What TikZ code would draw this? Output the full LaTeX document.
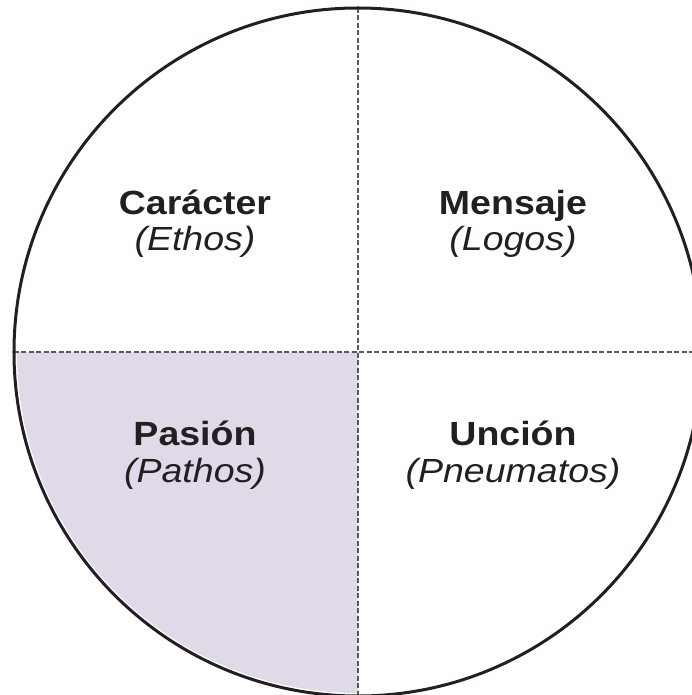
\documentclass[tikz,border=0pt]{standalone}
\usepackage{fontspec}
\newfontfamily\quadfont[FakeStretch=1.12]{Liberation Sans}
\definecolor{rimgray}{HTML}{231F20}
\definecolor{dashgray}{HTML}{58595B}
\definecolor{pathosfill}{HTML}{E0D9E8}

\begin{document}
\begin{tikzpicture}[x=1pt, y=1pt,
        title/.style={anchor=base, text=rimgray, font=\quadfont\fontsize{33.5}{40}\selectfont\bfseries},
        subtitle/.style={anchor=base, text=rimgray, font=\quadfont\fontsize{33.5}{40}\selectfont\itshape},
        divider/.style={dashgray, line width=1.1pt, dash pattern=on 5pt off 2.5pt}]
        % Fix the frame: the circle runs past the right edge
        \useasboundingbox (-358,-343) rectangle (333,352);

        % Shade the lower-left quadrant
        \fill[pathosfill] (0,0) -- (-341,0) arc[start angle=180, end angle=270, radius=341] -- cycle;

        % Dashed dividers across the circle
        \coordinate (top) at (0,344);
        \coordinate (bottom) at (0,-344);
        \coordinate (left) at (-344,0);
        \coordinate (right) at (344,0);
        \draw[divider] (top) -- (bottom);
        \draw[divider] (left) -- (right);

        % Outer rim
        \draw[rimgray, line width=3pt] (0,0) circle[radius=344];

        % Upper quadrants
        \node[title] (caracter) at (-163,137) {Carácter};
        \node[subtitle] (ethos) at (-163,101) {(Ethos)};
        \node[title] (mensaje) at (155,137) {Mensaje};
        \node[subtitle] (logos) at (155,101) {(Logos)};

        % Lower quadrants
        \node[title] (pasion) at (-163,-93) {Pasión};
        \node[subtitle] (pathos) at (-163,-130) {(Pathos)};
        \node[title] (uncion) at (155,-93) {Unción};
        \node[subtitle] (pneumatos) at (155,-130) {(Pneumatos)};
    \end{tikzpicture}
\end{document}
